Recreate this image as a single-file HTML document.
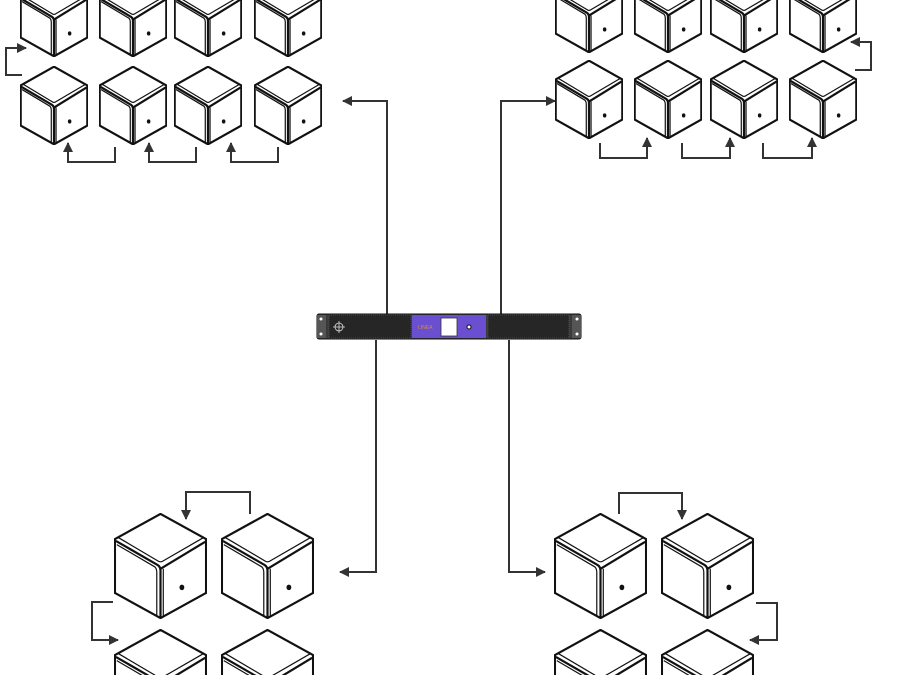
<!DOCTYPE html>
<html><head><meta charset="utf-8"><style>
html,body{margin:0;padding:0;background:#fff;width:900px;height:675px;overflow:hidden}
svg{display:block;overflow:hidden}
</style></head><body>
<svg width="900" height="675" viewBox="0 0 900 675" xmlns="http://www.w3.org/2000/svg">
<defs>
<symbol id="cube" viewBox="0 0 100 114" preserveAspectRatio="none">
<g fill="#fff" stroke="#111" stroke-width="2.2" stroke-linejoin="round">
<path d="M50 1 L99 28 L99 86 L50 113 L1 86 L1 28 Z" vector-effect="non-scaling-stroke"/>
<path d="M4 26 L48 52 Q50 53 52 52 L97 26" fill="none" stroke-width="1.2" vector-effect="non-scaling-stroke"/>
<path d="M2 30 L47 56 Q50 58 50 62 L50 112" fill="none" vector-effect="non-scaling-stroke"/>
<path d="M50 60 L98 31" fill="none" vector-effect="non-scaling-stroke"/>
<path d="M3 34 L44 58 Q46 60 46 64 L46 110" fill="none" stroke-width="1.2" vector-effect="non-scaling-stroke"/>
<path d="M53 60 L53 111" fill="none" stroke-width="1.2" vector-effect="non-scaling-stroke"/>
</g>
<ellipse cx="73" cy="80" rx="2.6" ry="3" fill="#111"/>
</symbol>
<marker id="ah" viewBox="0 0 10 10" refX="9" refY="5" markerWidth="10" markerHeight="10" markerUnits="userSpaceOnUse" orient="auto">
<path d="M0 0 L10 5 L0 10 Z" fill="#333"/>
</marker>
</defs>

<use href="#cube" x="20" y="-22" width="68" height="79"/>
<use href="#cube" x="99" y="-22" width="68" height="79"/>
<use href="#cube" x="174" y="-22" width="68" height="79"/>
<use href="#cube" x="254" y="-22" width="68" height="79"/>
<use href="#cube" x="20" y="66" width="68" height="79"/>
<use href="#cube" x="99" y="66" width="68" height="79"/>
<use href="#cube" x="174" y="66" width="68" height="79"/>
<use href="#cube" x="254" y="66" width="68" height="79"/>

<use href="#cube" x="555" y="-26" width="68" height="79"/>
<use href="#cube" x="634" y="-26" width="68" height="79"/>
<use href="#cube" x="710" y="-26" width="68" height="79"/>
<use href="#cube" x="789" y="-26" width="68" height="79"/>
<use href="#cube" x="555" y="60" width="68" height="79"/>
<use href="#cube" x="634" y="60" width="68" height="79"/>
<use href="#cube" x="710" y="60" width="68" height="79"/>
<use href="#cube" x="789" y="60" width="68" height="79"/>

<use href="#cube" x="114" y="513" width="93" height="106"/>
<use href="#cube" x="221" y="513" width="93" height="106"/>
<use href="#cube" x="114" y="629" width="93" height="106"/>
<use href="#cube" x="221" y="629" width="93" height="106"/>

<use href="#cube" x="554" y="513" width="93" height="106"/>
<use href="#cube" x="661" y="513" width="93" height="106"/>
<use href="#cube" x="554" y="629" width="93" height="106"/>
<use href="#cube" x="661" y="629" width="93" height="106"/>

<g fill="none" stroke="#333" stroke-width="2" marker-end="url(#ah)">
<path d="M387 314 L387 101 L343 101"/>
<path d="M501 314 L501 101 L555 101"/>
<path d="M376 340 L376 572 L340 572"/>
<path d="M509 340 L509 572 L545 572"/>
<path d="M22 75 L6 75 L6 48 L26 48"/>
<path d="M115 147 L115 162 L68 162 L68 143"/>
<path d="M196 147 L196 162 L149 162 L149 143"/>
<path d="M278 147 L278 162 L231 162 L231 143"/>
<path d="M600 143 L600 158 L647 158 L647 138"/>
<path d="M682 143 L682 158 L730 158 L730 138"/>
<path d="M763 143 L763 158 L812 158 L812 138"/>
<path d="M855 70 L871 70 L871 42 L851 42"/>
<path d="M250 514 L250 492 L186 492 L186 519"/>
<path d="M113 602 L92 602 L92 640 L118 640"/>
<path d="M619 514 L619 493 L682 493 L682 519"/>
<path d="M756 603 L777 603 L777 640 L750 640"/>
</g>

<rect x="317" y="314" width="264" height="25" rx="2" fill="#3a3a3a" stroke="#111"/>
<rect x="317" y="315" width="9" height="23" fill="#555"/>
<rect x="572" y="315" width="9" height="23" fill="#555"/>
<circle cx="321" cy="319" r="1.5" fill="#fff"/><circle cx="321" cy="334" r="1.5" fill="#fff"/>
<circle cx="577" cy="319" r="1.5" fill="#fff"/><circle cx="577" cy="334" r="1.5" fill="#fff"/>
<rect x="329" y="315" width="82" height="23" fill="#262626" stroke="#666" stroke-dasharray="1 1" stroke-width="0.6"/>
<rect x="488" y="315" width="81" height="23" fill="#262626" stroke="#666" stroke-dasharray="1 1" stroke-width="0.6"/>
<circle cx="339" cy="327" r="4" fill="none" stroke="#ddd" stroke-width="0.8"/>
<path d="M333 327 H345 M339 321 V333" stroke="#ddd" stroke-width="0.8"/>
<rect x="412" y="315" width="74" height="23" fill="#6a4fd0"/>
<text x="418" y="329" font-family="Liberation Sans, sans-serif" font-size="5" fill="#d88a3a">LINEA</text>
<rect x="441" y="318" width="16" height="18" fill="#fff" stroke="#333" stroke-width="0.8"/>
<circle cx="469" cy="327" r="2" fill="#fff" stroke="#111"/>
</svg>
</body></html>
